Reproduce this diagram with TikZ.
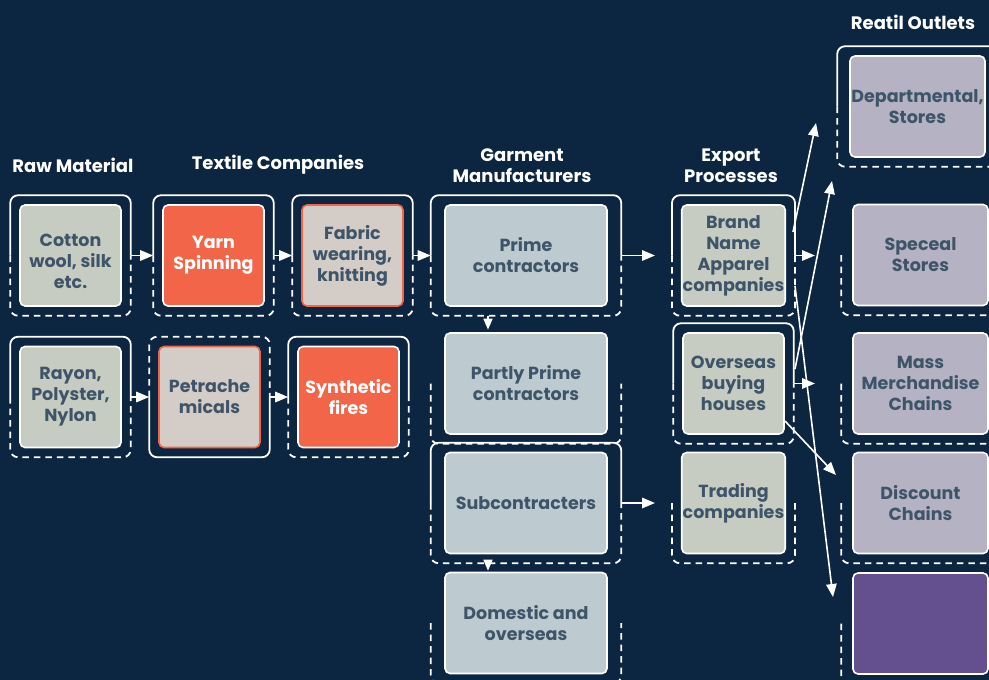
\documentclass[tikz,border=0pt]{standalone}
\usepackage{fontspec}
\setmainfont{Poppins}
\usetikzlibrary{arrows.meta,calc}
\definecolor{bg}{HTML}{0C2540}
\definecolor{sage}{HTML}{C7CCC3}
\definecolor{orng}{HTML}{F26548}
\definecolor{beige}{HTML}{D4CCC7}
\definecolor{steel}{HTML}{BDCBD1}
\definecolor{lav}{HTML}{B5B2C3}
\definecolor{purp}{HTML}{65508F}
\definecolor{txt}{HTML}{3E5569}
\tikzset{
  box/.style={draw=white, line width=1.6pt, rounded corners=5pt, minimum width=101pt,
    minimum height=101pt, inner sep=1pt, align=center, text=txt,
    font=\fontsize{17.5}{21}\selectfont\bfseries},
  wide/.style={minimum width=162pt},
  retail/.style={minimum width=135pt, fill=lav},
  title/.style={text=white, align=center, font=\fontsize{18}{21}\selectfont\bfseries},
  fr/.style={draw=white, line width=1.8pt, rounded corners=8pt},
  frd/.style={fr, dash pattern=on 6.5pt off 5pt},
  conn/.style={draw=white, line width=1.6pt, -{Triangle[length=13pt,width=10.5pt]}},
  dconn/.style={draw=white, line width=1.6pt, -{Triangle[length=11pt,width=9pt]}},
}
% frame halves: #1 node, #2 horizontal margin
\newcommand\frTop[2]{\draw[fr] ([xshift=-#2]#1.west) |- ([yshift=9pt]#1.north) -| ([xshift=#2]#1.east);}
\newcommand\frBot[2]{\draw[frd] ([xshift=-#2]#1.west) |- ([yshift=-9pt]#1.south) -| ([xshift=#2]#1.east);}
\newcommand\frTopD[2]{\draw[frd] ([xshift=-#2]#1.west) |- ([yshift=9pt]#1.north) -| ([xshift=#2]#1.east);}
\newcommand\frBotS[2]{\draw[fr] ([xshift=-#2]#1.west) |- ([yshift=-9pt]#1.south) -| ([xshift=#2]#1.east);}
\begin{document}
\begin{tikzpicture}[x=1pt,y=-1pt]
\useasboundingbox (0,0) rectangle (989,680);
\clip (0,0) rectangle (989,680);
\fill[bg] (0,0) rectangle (989,680);

% titles
\node[title] (t1) at (73,165) {Raw Material};
\node[title] (t2) at (278,165) {Textile Companies};
\node[title] (t3) at (522,166) {Garment\\Manufacturers};
\node[title] (t4) at (731,166) {Export\\Processes};
\node[title] (t5) at (913,22) {Reatil Outlets};

% boxes
\node[box, fill=sage, text height=67pt] (cotton) at (70.5,255.5) {Cotton\\wool, silk\\etc.};
\node[box, fill=sage] (rayon) at (70.5,397) {Rayon,\\Polyster,\\Nylon};
\node[box, fill=orng, text=white] (yarn) at (213.5,255.5) {Yarn\\Spinning};
\node[box, fill=beige, draw=orng] (fabric) at (352.5,255.5) {Fabric\\wearing,\\knitting};
\node[box, fill=beige, draw=orng] (petra) at (209.5,397) {Petrache\\micals};
\node[box, fill=orng, text=white] (synth) at (348.5,397) {Synthetic\\fires};

\node[box, wide, fill=steel] (prime) at (526,255.5) {Prime\\contractors};
\node[box, wide, fill=steel] (partly) at (526,383.5) {Partly Prime\\contractors};
\node[box, wide, fill=steel] (sub) at (526,503) {Subcontracters};
\node[box, wide, fill=steel] (dom) at (526,623) {Domestic and\\overseas};

\node[box, fill=sage] (brand) at (733.5,255.5) {Brand\\Name\\Apparel\\companies};
\node[box, fill=sage] (overseas) at (733.5,383.5) {Overseas\\buying\\houses};
\node[box, fill=sage] (trading) at (733.5,503) {Trading\\companies};

\node[box, retail] (dept) at (917.5,106.5) {Departmental,\\Stores};
\node[box, retail] (spec) at (920.5,255) {Speceal\\Stores};
\node[box, retail] (mass) at (920.5,383.5) {Mass\\Merchandise\\Chains};
\node[box, retail] (disc) at (920.5,503) {Discount\\Chains};
\node[box, retail, fill=purp] (purple) at (920.5,623.5) {};

% frames
\frTop{cotton}{9pt}\frBot{cotton}{9pt}
\frTop{rayon}{9pt}\frBot{rayon}{9pt}
\frTop{yarn}{9pt}\frBot{yarn}{9pt}
\frTop{fabric}{9pt}\frBot{fabric}{9pt}
\frTopD{petra}{9pt}\frBotS{petra}{9pt}
\frTop{synth}{9pt}\frBot{synth}{9pt}
\frTop{prime}{13.5pt}\frBot{prime}{13.5pt}
\frBot{partly}{13.5pt}
\frTop{sub}{13.5pt}\frBot{sub}{13.5pt}
\frBot{dom}{13.5pt}
\frTop{brand}{9pt}\frBot{brand}{9pt}
\frTop{overseas}{9pt}\frBot{overseas}{9pt}
\frBot{trading}{9pt}
\frTop{dept}{12pt}\frBot{dept}{12pt}
\frBot{spec}{11pt}
\frBot{mass}{11pt}
\frBot{disc}{11pt}
\frBot{purple}{11pt}

% frame side points
\coordinate (cotton-r) at ([xshift=9pt]cotton.east);
\coordinate (yarn-l) at ([xshift=-9pt]yarn.west);
\coordinate (yarn-r) at ([xshift=9pt]yarn.east);
\coordinate (fabric-l) at ([xshift=-9pt]fabric.west);
\coordinate (fabric-r) at ([xshift=9pt]fabric.east);
\coordinate (prime-l) at ([xshift=-13.5pt]prime.west);
\coordinate (prime-r) at ([xshift=13.5pt]prime.east);
\coordinate (rayon-r) at ([xshift=9pt]rayon.east);
\coordinate (petra-l) at ([xshift=-9pt]petra.west);
\coordinate (petra-r) at ([xshift=9pt]petra.east);
\coordinate (synth-l) at ([xshift=-9pt]synth.west);
\coordinate (sub-r) at ([xshift=13.5pt]sub.east);
\coordinate (prime-b) at ([xshift=-38pt,yshift=-9pt]prime.south);
\coordinate (partly-t) at ([xshift=-38pt]partly.north);
\coordinate (sub-b) at ([xshift=-38pt,yshift=-9pt]sub.south);
\coordinate (dom-t) at ([xshift=-38pt]dom.north);
\coordinate (brand-r) at ([xshift=9pt]brand.east);
\coordinate (overseas-r) at ([xshift=9pt]overseas.east);
\coordinate (exp1) at (655,255.5);
\coordinate (exp2) at (655,503);
\coordinate (ret1) at (815,255.5);
\coordinate (ret2) at (815,383.5);
\coordinate (d1s) at (793,232);
\coordinate (d1e) at (816,123);
\coordinate (d2s) at (795,369);
\coordinate (d2e) at (832,181);
\coordinate (d3s) at (795,286);
\coordinate (d3e) at (833,597);
\coordinate (d4s) at (785,421);
\coordinate (d4e) at (836,475);

% connectors
\draw[conn] (cotton-r) -- (yarn-l);
\draw[conn] (yarn-r) -- (fabric-l);
\draw[conn] (fabric-r) -- (prime-l);
\draw[conn] (rayon-r) -- (petra-l);
\draw[conn] (petra-r) -- (synth-l);
\draw[conn] (prime-r) -- (exp1);
\draw[conn] (sub-r) -- (exp2);
\draw[dconn, shorten >=2.5pt] (prime-b) -- (partly-t);
\draw[dconn, shorten >=1pt] (sub-b) -- (dom-t);
\draw[conn] (brand-r) -- (ret1);
\draw[conn] (overseas-r) -- (ret2);
\draw[conn] (d1s) -- (d1e);
\draw[conn] (d2s) -- (d2e);
\draw[conn] (d3s) -- (d3e);
\draw[conn] (d4s) -- (d4e);
\end{tikzpicture}
\end{document}
